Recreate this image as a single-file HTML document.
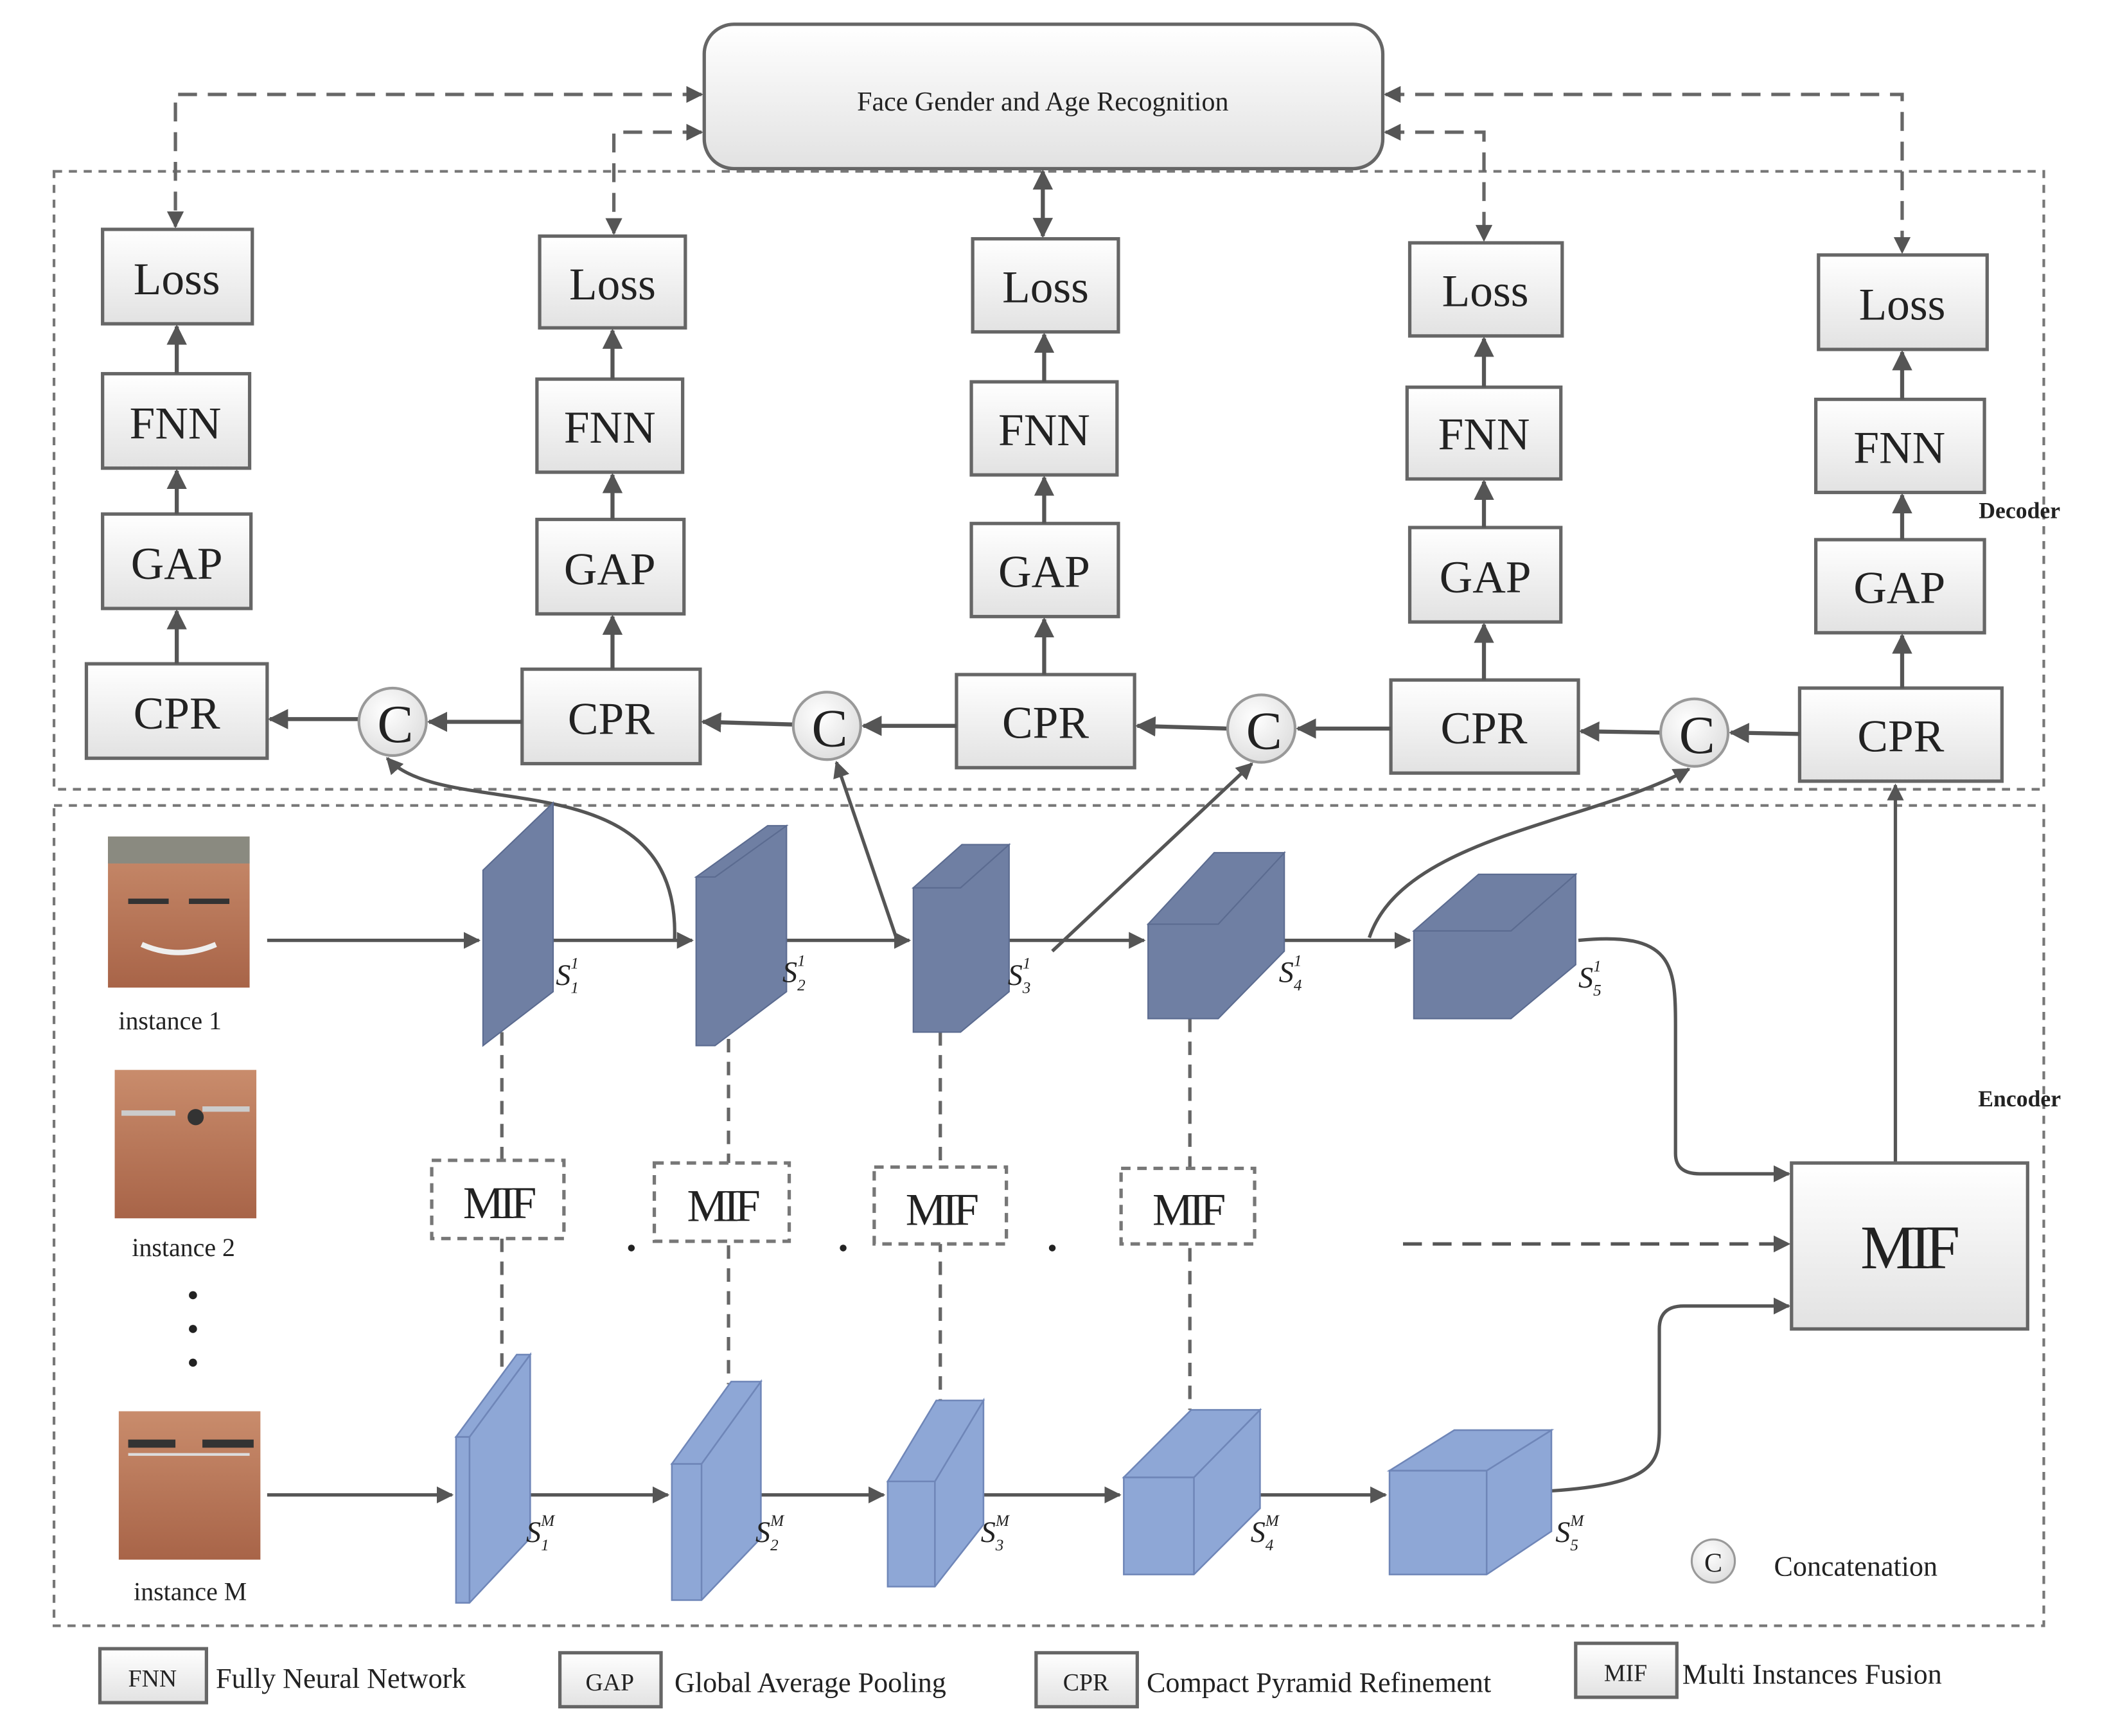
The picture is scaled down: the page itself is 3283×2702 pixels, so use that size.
<!DOCTYPE html>
<html><head><meta charset="utf-8"><style>
html,body{margin:0;padding:0;background:#fff;}
svg{display:block;}
text{font-family:"Liberation Serif",serif;fill:#222;}
</style></head><body>
<svg width="3283" height="2702" viewBox="0 0 1563.3 1286.7" xmlns="http://www.w3.org/2000/svg">
<defs>
<linearGradient id="g" x1="0" y1="0" x2="0" y2="1"><stop offset="0" stop-color="#ffffff"/><stop offset="1" stop-color="#e2e2e2"/></linearGradient>
<marker id="a" viewBox="0 0 10 10" refX="9" refY="5" markerWidth="5" markerHeight="5" orient="auto-start-reverse"><path d="M0,0 L10,5 L0,10 z" fill="#555"/></marker>
<radialGradient id="cg" cx="0.4" cy="0.35" r="0.7"><stop offset="0" stop-color="#fff"/><stop offset="1" stop-color="#ddd"/></radialGradient>
<linearGradient id="skin" x1="0" y1="0" x2="0" y2="1"><stop offset="0" stop-color="#c98c6c"/><stop offset="1" stop-color="#a86448"/></linearGradient>
</defs>

<rect x="522" y="18" width="503" height="107" rx="22" fill="url(#g)" stroke="#666" stroke-width="2.5"/>
<text x="773" y="82" font-size="20" text-anchor="middle">Face Gender and Age Recognition</text>

<rect x="40" y="127" width="1475" height="458" fill="none" stroke="#777" stroke-width="2" stroke-dasharray="6,5"/>
<rect x="40" y="597" width="1475" height="608" fill="none" stroke="#777" stroke-width="2" stroke-dasharray="6,5"/>
<text x="1497" y="384" font-size="17" font-weight="bold" text-anchor="middle">Decoder</text>
<text x="1497" y="820" font-size="17" font-weight="bold" text-anchor="middle">Encoder</text>

<g stroke="#666" stroke-width="2.5" fill="none" stroke-dasharray="14,8">
<path d="M520,70 H130 V168" marker-end="url(#a)" marker-start="url(#a)"/>
<path d="M520,98 H455 V173" marker-end="url(#a)" marker-start="url(#a)"/>
<path d="M1027,98 H1100 V178" marker-end="url(#a)" marker-start="url(#a)"/>
<path d="M1027,70 H1410 V187" marker-end="url(#a)" marker-start="url(#a)"/>
</g>
<path d="M773,127 V175" stroke="#555" stroke-width="3" marker-end="url(#a)" marker-start="url(#a)"/>

<g font-size="34" text-anchor="middle">
<g fill="url(#g)" stroke="#666" stroke-width="2.5">
<rect x="76" y="170" width="111" height="70"/><rect x="76" y="277" width="109" height="70"/><rect x="76" y="381" width="110" height="70"/><rect x="64" y="492" width="134" height="70"/>
<rect x="400" y="175" width="108" height="68"/><rect x="398" y="281" width="108" height="69"/><rect x="398" y="385" width="109" height="70"/><rect x="387" y="496" width="132" height="70"/>
<rect x="721" y="177" width="108" height="69"/><rect x="720" y="283" width="108" height="69"/><rect x="720" y="388" width="109" height="69"/><rect x="709" y="500" width="132" height="69"/>
<rect x="1045" y="180" width="113" height="69"/><rect x="1043" y="287" width="114" height="68"/><rect x="1045" y="391" width="112" height="70"/><rect x="1031" y="504" width="139" height="69"/>
<rect x="1348" y="189" width="125" height="70"/><rect x="1346" y="296" width="125" height="69"/><rect x="1346" y="400" width="125" height="69"/><rect x="1334" y="510" width="150" height="69"/>
</g>
<text x="131" y="218">Loss</text><text x="130" y="325">FNN</text><text x="131" y="429">GAP</text><text x="131" y="540">CPR</text>
<text x="454" y="222">Loss</text><text x="452" y="328">FNN</text><text x="452" y="433">GAP</text><text x="453" y="544">CPR</text>
<text x="775" y="224">Loss</text><text x="774" y="330">FNN</text><text x="774" y="435">GAP</text><text x="775" y="547">CPR</text>
<text x="1101" y="227">Loss</text><text x="1100" y="333">FNN</text><text x="1101" y="439">GAP</text><text x="1100" y="551">CPR</text>
<text x="1410" y="237">Loss</text><text x="1408" y="343">FNN</text><text x="1408" y="447">GAP</text><text x="1409" y="557">CPR</text>
</g>
<g stroke="#555" stroke-width="3" marker-end="url(#a)">
<line x1="131" y1="277" x2="131" y2="242"/><line x1="131" y1="381" x2="131" y2="349"/><line x1="131" y1="492" x2="131" y2="453"/>
<line x1="454" y1="281" x2="454" y2="245"/><line x1="454" y1="385" x2="454" y2="352"/><line x1="454" y1="496" x2="454" y2="457"/>
<line x1="774" y1="283" x2="774" y2="248"/><line x1="774" y1="388" x2="774" y2="354"/><line x1="774" y1="500" x2="774" y2="459"/>
<line x1="1100" y1="287" x2="1100" y2="251"/><line x1="1100" y1="391" x2="1100" y2="357"/><line x1="1100" y1="504" x2="1100" y2="463"/>
<line x1="1410" y1="296" x2="1410" y2="261"/><line x1="1410" y1="400" x2="1410" y2="367"/><line x1="1410" y1="510" x2="1410" y2="471"/>
<line x1="1334" y1="544" x2="1283" y2="543"/><line x1="1231" y1="543" x2="1172" y2="542"/>
<line x1="1031" y1="540" x2="962" y2="540"/><line x1="910" y1="540" x2="843" y2="538"/>
<line x1="709" y1="538" x2="640" y2="538"/><line x1="588" y1="537" x2="521" y2="535"/>
<line x1="387" y1="535" x2="318" y2="535"/><line x1="266" y1="533" x2="200" y2="533"/>
</g>
<g fill="url(#cg)" stroke="#999" stroke-width="2">
<circle cx="291" cy="535" r="25"/><circle cx="613" cy="538" r="25"/><circle cx="935" cy="540" r="25"/><circle cx="1256" cy="543" r="25"/>
</g>
<g font-size="40" text-anchor="middle"><text x="293" y="550">C</text><text x="615" y="553">C</text><text x="937" y="555">C</text><text x="1258" y="558">C</text></g>

<g>
<rect x="80" y="620" width="105" height="112" fill="url(#skin)"/>
<rect x="80" y="620" width="105" height="20" fill="#8a8a80"/>
<path d="M95,668 h30 M140,668 h30" stroke="#333" stroke-width="4"/>
<path d="M105,700 q27,12 55,0" stroke="#eee" stroke-width="4" fill="none"/>
<rect x="85" y="793" width="105" height="110" fill="url(#skin)"/>
<path d="M90,825 h40 M150,822 h35" stroke="#ccc" stroke-width="4"/><circle cx="145" cy="828" r="6" fill="#333"/>
<rect x="88" y="1046" width="105" height="110" fill="url(#skin)"/>
<path d="M95,1070 h35 M150,1070 h38" stroke="#333" stroke-width="6"/><path d="M95,1078 h90" stroke="#ddd" stroke-width="2"/>
</g>
<g font-size="19" text-anchor="middle">
<text x="126" y="763">instance 1</text><text x="136" y="931">instance 2</text><text x="141" y="1186">instance M</text>
</g>
<g fill="#222"><circle cx="143" cy="960" r="3"/><circle cx="143" cy="985" r="3"/><circle cx="143" cy="1010" r="3"/>
<circle cx="468" cy="925" r="2.5"/><circle cx="625" cy="925" r="2.5"/><circle cx="780" cy="925" r="2.5"/></g>

<g stroke="#666" stroke-width="2.5" stroke-dasharray="10,7">
<line x1="372" y1="765" x2="372" y2="1022"/><line x1="540" y1="770" x2="540" y2="1026"/><line x1="697" y1="765" x2="697" y2="1040"/><line x1="882" y1="755" x2="882" y2="1045"/>
</g>
<g fill="#fff" stroke="#777" stroke-width="2.5" stroke-dasharray="7,5">
<rect x="320" y="860" width="98" height="58"/><rect x="485" y="862" width="100" height="58"/><rect x="648" y="865" width="98" height="57"/><rect x="831" y="866" width="99" height="56"/>
</g>
<g font-size="34" text-anchor="middle" letter-spacing="-3">
<text x="369" y="903">MIF</text><text x="535" y="905">MIF</text><text x="697" y="908">MIF</text><text x="880" y="908">MIF</text>
</g>

<g stroke="#555" stroke-width="2.5" marker-end="url(#a)" fill="none">
<line x1="198" y1="697" x2="355" y2="697"/><line x1="405" y1="697" x2="513" y2="697"/><line x1="575" y1="697" x2="674" y2="697"/><line x1="745" y1="697" x2="848" y2="697"/><line x1="950" y1="697" x2="1045" y2="697"/>
<line x1="198" y1="1108" x2="335" y2="1108"/><line x1="385" y1="1108" x2="495" y2="1108"/><line x1="556" y1="1108" x2="655" y2="1108"/><line x1="726" y1="1108" x2="830" y2="1108"/><line x1="930" y1="1108" x2="1027" y2="1108"/>
<path d="M500,697 C505,560 330,610 287,562"/>
<path d="M665,697 L620,565"/>
<path d="M780,705 L928,566"/>
<path d="M1015,695 C1040,620 1180,610 1252,570"/>
<path d="M1170,697 C1240,690 1242,715 1242,760 V855 Q1242,870 1260,870 H1326"/>
<path d="M1150,1105 C1225,1100 1230,1085 1230,1060 V985 Q1230,968 1248,968 H1326"/>
<line x1="1405" y1="862" x2="1405" y2="582"/>
</g>
<path d="M1040,922 H1326" stroke="#555" stroke-width="2.5" stroke-dasharray="14,8" marker-end="url(#a)"/>

<!-- blocks row1 -->
<g fill="#6f7fa3" stroke="#5b6b90" stroke-width="1">
<polygon points="358,645 410,595 410,735 358,775"/>
<polygon points="516,650 530,650 583,612 583,735 530,775 516,775"/>
<polygon points="516,650 569,612 583,612 530,650"/>
<polygon points="677,658 712,658 748,626 748,735 712,765 677,765"/>
<polygon points="677,658 713,626 748,626 712,658"/>
<polygon points="851,685 903,685 952,632 952,705 903,755 851,755"/>
<polygon points="851,685 900,632 952,632 903,685"/>
<polygon points="1048,690 1120,690 1168,648 1168,715 1120,755 1048,755"/>
<polygon points="1048,690 1096,648 1168,648 1120,690"/>
</g>
<!-- blocks rowM -->
<g fill="#8ea7d6" stroke="#6f86b8" stroke-width="1.2">
<polygon points="338,1065 348,1065 393,1004 393,1140 348,1188 338,1188"/>
<polygon points="338,1065 383,1004 393,1004 348,1065"/>
<polygon points="498,1085 520,1085 564,1024 564,1140 520,1186 498,1186"/>
<polygon points="498,1085 542,1024 564,1024 520,1085"/>
<polygon points="658,1098 693,1098 729,1038 729,1130 693,1176 658,1176"/>
<polygon points="658,1098 694,1038 729,1038 693,1098"/>
<polygon points="833,1095 885,1095 934,1045 934,1118 885,1167 833,1167"/>
<polygon points="833,1095 883,1045 934,1045 885,1095"/>
<polygon points="1030,1090 1102,1090 1150,1060 1150,1135 1102,1167 1030,1167"/>
<polygon points="1030,1090 1078,1060 1150,1060 1102,1090"/>
<path d="M348,1065 V1188 M520,1085 V1186 M693,1098 V1176 M885,1095 V1167 M1102,1090 V1167" fill="none"/>
</g>
<g font-size="22" font-style="italic">
<text x="412" y="730">S<tspan font-size="12" dy="-12">1</tspan><tspan font-size="12" dx="-6" dy="18">1</tspan></text>
<text x="580" y="728">S<tspan font-size="12" dy="-12">1</tspan><tspan font-size="12" dx="-6" dy="18">2</tspan></text>
<text x="747" y="730">S<tspan font-size="12" dy="-12">1</tspan><tspan font-size="12" dx="-6" dy="18">3</tspan></text>
<text x="948" y="728">S<tspan font-size="12" dy="-12">1</tspan><tspan font-size="12" dx="-6" dy="18">4</tspan></text>
<text x="1170" y="732">S<tspan font-size="12" dy="-12">1</tspan><tspan font-size="12" dx="-6" dy="18">5</tspan></text>
<text x="390" y="1143">S<tspan font-size="12" dy="-12">M</tspan><tspan font-size="12" dx="-10" dy="18">1</tspan></text>
<text x="560" y="1143">S<tspan font-size="12" dy="-12">M</tspan><tspan font-size="12" dx="-10" dy="18">2</tspan></text>
<text x="727" y="1143">S<tspan font-size="12" dy="-12">M</tspan><tspan font-size="12" dx="-10" dy="18">3</tspan></text>
<text x="927" y="1143">S<tspan font-size="12" dy="-12">M</tspan><tspan font-size="12" dx="-10" dy="18">4</tspan></text>
<text x="1153" y="1143">S<tspan font-size="12" dy="-12">M</tspan><tspan font-size="12" dx="-10" dy="18">5</tspan></text>
</g>

<rect x="1328" y="862" width="175" height="123" fill="url(#g)" stroke="#666" stroke-width="2.5"/>
<text x="1414" y="940" font-size="46" text-anchor="middle" letter-spacing="-4">MIF</text>

<circle cx="1270" cy="1157" r="16" fill="url(#cg)" stroke="#999" stroke-width="1.5"/>
<text x="1270" y="1165" font-size="20" text-anchor="middle">C</text>
<text x="1315" y="1168" font-size="21">Concatenation</text>

<g fill="url(#g)" stroke="#666" stroke-width="2.5">
<rect x="74" y="1222" width="79" height="40"/><rect x="415" y="1225" width="75" height="40"/><rect x="768" y="1225" width="75" height="40"/><rect x="1168" y="1218" width="75" height="40"/>
</g>
<g font-size="18" text-anchor="middle"><text x="113" y="1250">FNN</text><text x="452" y="1253">GAP</text><text x="805" y="1253">CPR</text><text x="1205" y="1246">MIF</text></g>
<g font-size="21"><text x="160" y="1251">Fully Neural Network</text><text x="500" y="1254">Global Average Pooling</text><text x="850" y="1254">Compact Pyramid Refinement</text><text x="1247" y="1248">Multi Instances Fusion</text></g>
</svg>
</body></html>
